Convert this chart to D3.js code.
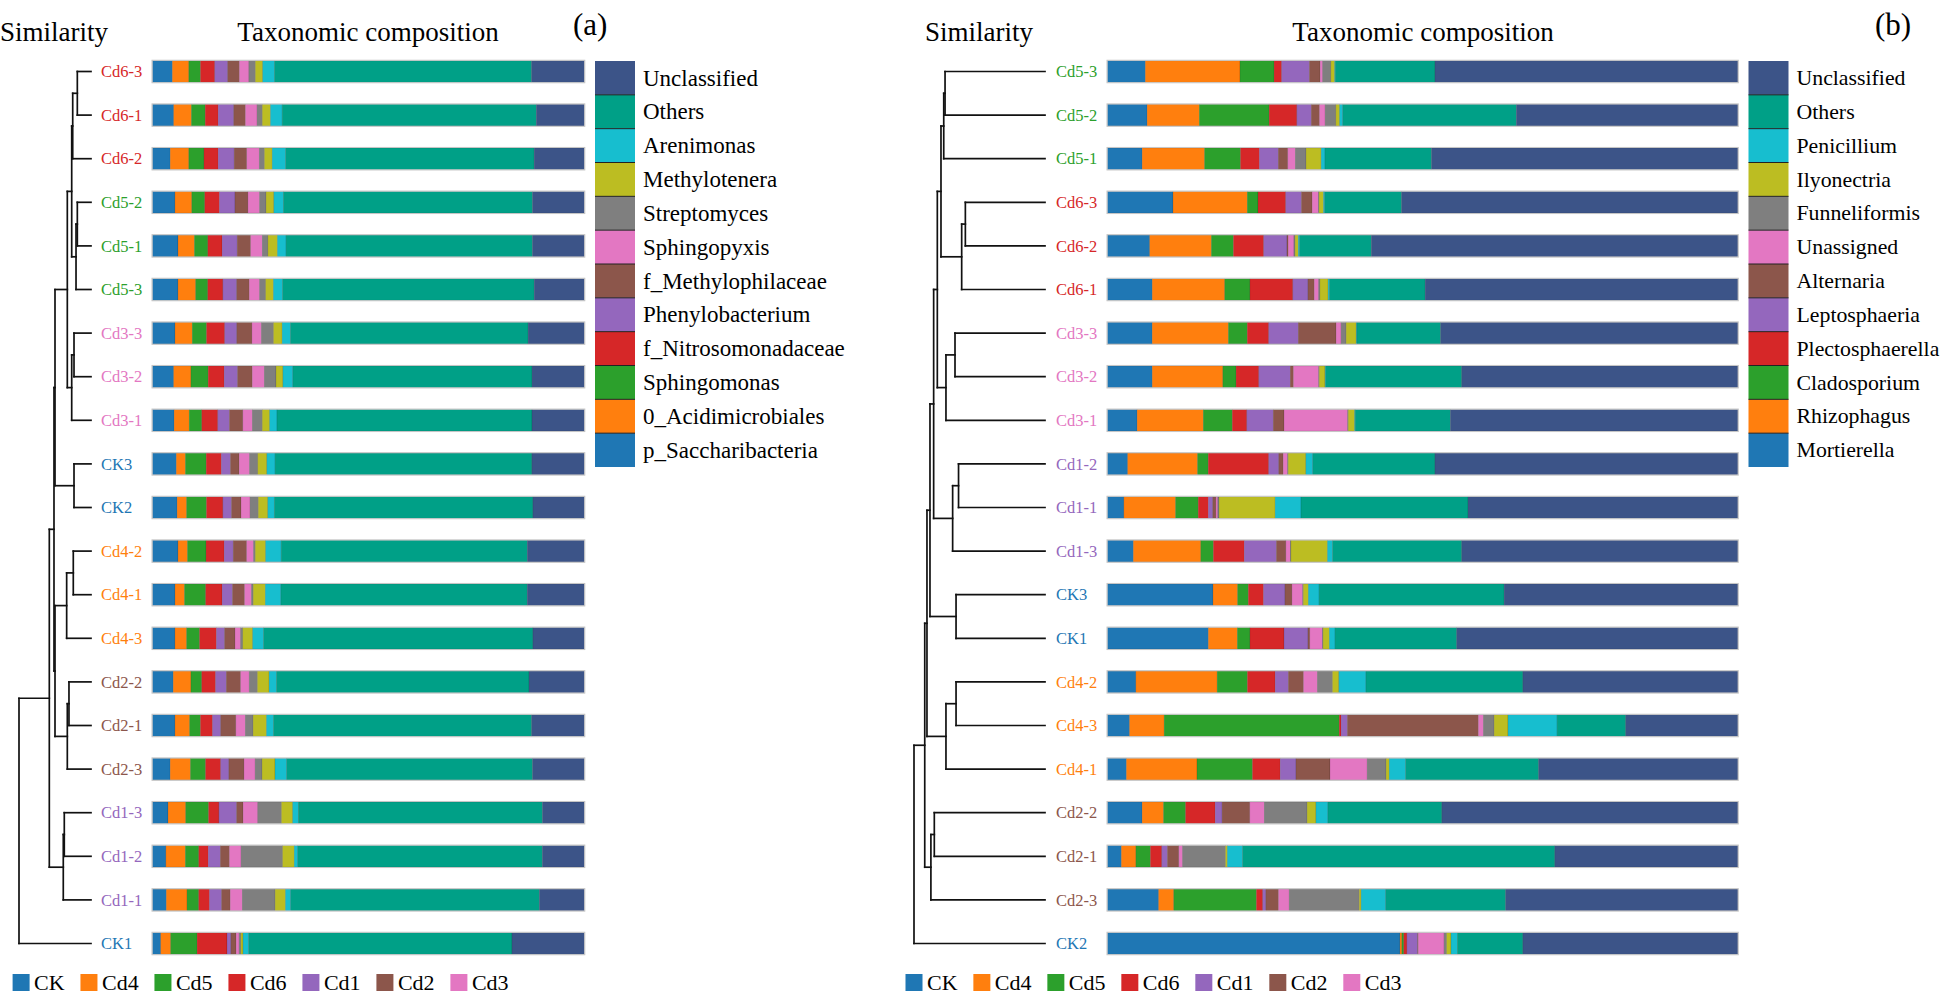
<!DOCTYPE html>
<html><head><meta charset="utf-8">
<script src="https://cdn.jsdelivr.net/npm/d3@7"></script>
<style>body{margin:0;background:#fff}svg{display:block;font-family:"Liberation Serif","Times New Roman",serif}</style>
</head><body>
<svg id="c" width="1945" height="996"></svg>
<script>
// ---------- DATA ----------
const groups = ["CK","Cd4","Cd5","Cd6","Cd1","Cd2","Cd3"];
const groupColors = ["#1f77b4","#ff7f0e","#2ca02c","#d62728","#9467bd","#8c564b","#e377c2"];
const taxonColors = ["#1f77b4","#ff7f0e","#2ca02c","#d62728","#9467bd","#8c564b","#e377c2","#7f7f7f","#bcbd22","#17becf","#00a087","#3c5488"];

const taxaA = ["p_Saccharibacteria","0_Acidimicrobiales","Sphingomonas","f_Nitrosomonadaceae","Phenylobacterium","f_Methylophilaceae","Sphingopyxis","Streptomyces","Methylotenera","Arenimonas","Others","Unclassified"];
const samplesA = ["Cd6-3","Cd6-1","Cd6-2","Cd5-2","Cd5-1","Cd5-3","Cd3-3","Cd3-2","Cd3-1","CK3","CK2","Cd4-2","Cd4-1","Cd4-3","Cd2-2","Cd2-1","Cd2-3","Cd1-3","Cd1-2","Cd1-1","CK1"];
const valuesA = [
 [4.6,3.8,2.7,3.3,3.0,2.7,2.2,1.5,1.7,2.7,59.5,12.2],
 [4.9,4.1,3.2,3.0,3.6,2.7,2.7,1.2,1.9,2.7,58.8,11.1],
 [4.1,4.3,3.5,3.3,3.7,2.9,2.9,1.2,1.8,3.1,57.5,11.6],
 [5.2,3.9,3.0,3.4,3.6,3.0,2.7,1.5,1.8,2.2,57.7,12.0],
 [5.9,3.8,3.1,3.3,3.5,3.1,2.7,1.3,2.2,2.0,57.0,12.0],
 [5.9,4.1,2.8,3.5,3.2,2.9,2.4,1.4,1.8,2.1,58.3,11.6],
 [5.2,4.0,3.3,4.2,2.8,3.5,2.2,2.8,2.0,1.9,55.0,13.0],
 [4.9,4.0,4.0,3.7,3.1,3.4,2.8,2.7,1.6,2.3,55.4,12.1],
 [5.0,3.5,2.9,3.7,2.7,3.1,2.2,2.3,1.7,1.7,59.0,12.1],
 [5.5,2.1,4.8,3.5,2.1,2.0,2.4,1.9,2.1,1.9,59.3,12.1],
 [5.7,2.2,4.6,3.8,2.0,2.2,2.1,1.9,2.2,1.5,59.9,11.9],
 [5.9,2.2,4.3,4.2,2.1,3.1,1.6,0.4,2.4,3.6,57.0,13.2],
 [5.2,2.2,4.9,3.8,2.4,2.8,1.6,0.4,2.8,3.6,57.0,13.2],
 [5.2,2.7,3.0,3.9,1.9,2.4,1.3,0.5,2.3,2.5,62.4,11.9],
 [4.8,4.1,2.5,3.2,2.5,3.3,2.0,1.9,2.7,1.7,58.5,12.8],
 [5.2,3.4,2.5,2.8,1.9,3.5,2.2,1.8,3.1,1.6,59.8,12.2],
 [4.1,4.7,3.5,3.5,1.9,3.5,2.6,1.6,3.0,2.7,57.0,12.0],
 [3.6,4.1,5.3,2.4,4.1,1.5,3.4,5.5,2.6,1.3,56.6,9.7],
 [3.1,4.5,3.1,2.2,2.8,2.1,2.7,9.6,2.7,0.8,56.6,9.7],
 [3.2,4.8,2.7,2.5,2.8,2.0,2.8,7.6,2.4,1.2,57.6,10.4],
 [1.9,2.3,6.1,6.9,0.9,1.2,0.7,0.4,0.5,1.3,60.8,16.7]
];
// dendrogram (a): h = dissimilarity height of each merge
const treeA = {h:1.0, c:[
  {h:0.579, c:[
    {h:0.514, c:[
      {h:0.5, c:[
        {h:0.329, c:[
          {h:0.268, c:[
            {h:0.254, c:[{h:0.19, c:["Cd6-3","Cd6-1"]},"Cd6-2"]},
            {h:0.208, c:[{h:0.19, c:["Cd5-2","Cd5-1"]},"Cd5-3"]}]},
          {h:0.268, c:[{h:0.236, c:["Cd3-3","Cd3-2"]},"Cd3-1"]}]},
        {h:0.236, c:["CK3","CK2"]}]},
      {h:0.5, c:[
        {h:0.338, c:[{h:0.246, c:["Cd4-2","Cd4-1"]},"Cd4-3"]},
        {h:0.329, c:[{h:0.306, c:["Cd2-2","Cd2-1"]},"Cd2-3"]}]}]},
    {h:0.385, c:[{h:0.371, c:["Cd1-3","Cd1-2"]},"Cd1-1"]}]},
  "CK1"]};

const taxaB = ["Mortierella","Rhizophagus","Cladosporium","Plectosphaerella","Leptosphaeria","Alternaria","Unassigned","Funneliformis","Ilyonectria","Penicillium","Others","Unclassified"];
const samplesB = ["Cd5-3","Cd5-2","Cd5-1","Cd6-3","Cd6-2","Cd6-1","Cd3-3","Cd3-2","Cd3-1","Cd1-2","Cd1-1","Cd1-3","CK3","CK1","Cd4-2","Cd4-3","Cd4-1","Cd2-2","Cd2-1","Cd2-3","CK2"];
const valuesB = [
 [6.0,15.0,5.4,1.2,4.4,1.7,0.4,1.3,0.6,0.1,15.8,48.0],
 [6.3,8.3,11.1,4.4,2.3,1.3,0.9,1.7,0.6,0.5,27.6,35.2],
 [5.5,9.9,5.7,3.0,3.0,1.5,1.2,1.7,2.4,0.6,16.9,48.6],
 [10.4,11.8,1.7,4.4,2.5,1.7,1.0,0.1,0.7,0.2,12.2,53.4],
 [6.7,9.8,3.5,4.8,3.7,0.2,0.9,0.2,0.5,0.2,11.4,58.2],
 [7.1,11.5,4.0,6.8,2.4,1.0,0.7,0.2,1.3,0.2,15.2,49.6],
 [7.1,12.1,3.0,3.4,4.7,6.0,0.8,0.8,1.6,0.1,13.3,47.2],
 [7.1,11.2,2.1,3.6,5.0,0.5,4.0,0.1,0.9,0.1,21.6,43.8],
 [4.7,10.5,4.6,2.3,4.2,1.7,10.1,0.1,1.0,0.1,15.1,45.6],
 [3.2,11.1,1.7,9.6,1.6,0.7,0.7,0.1,2.8,1.1,19.4,48.1],
 [2.6,8.2,3.6,1.6,0.7,0.5,0.3,0.2,8.9,4.1,26.5,42.8],
 [4.1,10.7,2.0,4.9,5.1,1.5,0.7,0.1,5.8,0.8,20.5,43.8],
 [16.7,3.9,1.7,2.4,3.4,1.1,1.7,0.1,0.8,1.7,29.3,37.0],
 [16.0,4.6,2.0,5.4,3.8,0.3,2.0,0.1,1.0,0.9,19.3,44.6],
 [4.5,12.9,4.8,4.4,2.1,2.4,2.2,2.4,1.0,4.3,24.9,34.1],
 [3.5,5.5,27.8,0.3,1.0,20.8,0.8,1.7,2.2,7.8,10.9,17.8],
 [3.0,11.2,8.8,4.4,2.5,5.4,5.9,3.0,0.5,2.6,21.1,31.6],
 [5.5,3.4,3.5,4.7,1.1,4.4,2.3,6.8,1.4,1.9,18.1,47.0],
 [2.2,2.3,2.3,1.8,0.9,1.8,0.6,6.8,0.3,2.4,49.5,29.0],
 [8.1,2.4,13.1,1.0,0.5,2.0,1.7,11.1,0.3,3.9,19.0,36.8],
 [46.4,0.3,0.3,0.5,1.7,0.1,4.1,0.4,0.7,1.0,10.4,34.1]
];
const treeB = {h:1.0, c:[
  {h:0.918, c:[
    {h:0.901, c:[
      {h:0.878, c:[
        {h:0.850, c:[
          {h:0.822, c:[
            {h:0.794, c:[
              {h:0.773, c:[{h:0.763, c:["Cd5-3","Cd5-2"]},"Cd5-1"]},
              {h:0.636, c:[{h:0.608, c:["Cd6-3","Cd6-2"]},"Cd6-1"]}]},
            {h:0.756, c:[{h:0.687, c:["Cd3-3","Cd3-2"]},"Cd3-1"]}]},
          {h:0.705, c:[{h:0.660, c:["Cd1-2","Cd1-1"]},"Cd1-3"]}]},
        {h:0.679, c:["CK3","CK1"]}]},
      {h:0.756, c:[{h:0.679, c:["Cd4-2","Cd4-3"]},"Cd4-1"]}]},
    {h:0.871, c:[{h:0.845, c:["Cd2-2","Cd2-1"]},"Cd2-3"]}]},
  "CK2"]};

// ---------- DRAW ----------
const svg = d3.select("#c");
const groupColor = d3.scaleOrdinal(groups, groupColors);
const sampleGroup = s => s.startsWith("CK") ? "CK" : s.split("-")[0];

function panel(cfg) {
  const g = svg.append("g");
  const y = d3.scalePoint().domain(cfg.samples).range([71.5, 943.5]);
  const barH = 21.5;
  const x = d3.scaleLinear([0, 1], [cfg.barX0, cfg.barX1]);
  const color = d3.scaleOrdinal(cfg.taxa, taxonColors);

  // titles
  g.append("text").attr("x", cfg.simX).attr("y", 40.5).attr("font-size", 27).text("Similarity");
  g.append("text").attr("x", cfg.compX).attr("y", 40.5).attr("font-size", 27).attr("text-anchor", "middle").text("Taxonomic composition");
  g.append("text").attr("x", cfg.tagX).attr("y", 35).attr("font-size", 31).text(cfg.tag);

  // stacked bars
  const rows = cfg.samples.map((s, i) => { const o = {sample: s}; cfg.taxa.forEach((t, j) => o[t] = cfg.values[i][j]); return o; });
  const series = d3.stack().keys(cfg.taxa).offset(d3.stackOffsetExpand)(rows);
  g.append("g").selectAll("g").data(series).join("g")
    .attr("fill", d => color(d.key))
    .selectAll("rect").data(d => d).join("rect")
    .attr("x", d => x(d[0])).attr("width", d => Math.max(0, x(d[1]) - x(d[0])))
    .attr("y", d => y(d.data.sample) - barH / 2).attr("height", barH)
    .attr("stroke", "rgba(0,0,0,0.18)").attr("stroke-width", 0.6);
  g.append("g").selectAll("rect").data(cfg.samples).join("rect")
    .attr("x", x(0) - 0.5).attr("width", x(1) - x(0) + 1)
    .attr("y", s => y(s) - barH / 2 - 0.5).attr("height", barH + 1)
    .attr("fill", "none").attr("stroke", "#c4c4c4").attr("stroke-width", 1);

  // sample labels
  g.append("g").selectAll("text").data(cfg.samples).join("text")
    .attr("x", cfg.labelX).attr("y", s => y(s)).attr("dy", "0.35em")
    .attr("font-size", 16.5).attr("fill", s => groupColor(sampleGroup(s))).text(s => s);

  // dendrogram
  const tx = d3.scaleLinear([0, 1], [cfg.leafX, cfg.rootX]);
  function build(n) {
    if (typeof n === "string") return {h: 0, y: y(n)};
    const kids = n.c.map(build);
    return {h: n.h, kids, y: (kids[0].y + kids[kids.length - 1].y) / 2};
  }
  const segs = [];
  (function walk(n) {
    if (!n.kids) return;
    segs.push([tx(n.h), n.kids[0].y, tx(n.h), n.kids[n.kids.length - 1].y]);
    n.kids.forEach(k => { segs.push([tx(n.h), k.y, tx(k.h), k.y]); walk(k); });
  })(build(cfg.tree));
  g.append("g").attr("stroke", "#111").attr("stroke-width", 1.7).attr("stroke-linecap", "square")
    .selectAll("line").data(segs).join("line")
    .attr("x1", d => d[0]).attr("y1", d => d[1]).attr("x2", d => d[2]).attr("y2", d => d[3]);

  // right legend
  const legTaxa = cfg.taxa.slice().reverse();
  const ly = d3.scaleBand().domain(legTaxa).range([61, 467]);
  const lg = g.append("g");
  lg.selectAll("rect").data(legTaxa).join("rect")
    .attr("x", cfg.legX).attr("width", 40).attr("y", t => ly(t)).attr("height", ly.bandwidth())
    .attr("fill", t => color(t));
  lg.selectAll("line").data(legTaxa.slice(1)).join("line")
    .attr("x1", cfg.legX).attr("x2", cfg.legX + 40).attr("y1", t => ly(t)).attr("y2", t => ly(t))
    .attr("stroke", "#222").attr("stroke-width", 1);
  lg.selectAll("text").data(legTaxa).join("text")
    .attr("x", cfg.legX + 48).attr("y", t => ly(t) + ly.bandwidth() / 2).attr("dy", "0.33em")
    .attr("font-size", cfg.legFont).text(t => t);

  // bottom group legend
  let cx = cfg.botX;
  const bg = g.append("g");
  groups.forEach(gr => {
    bg.append("rect").attr("x", cx).attr("y", 974).attr("width", 17).attr("height", 17).attr("fill", groupColor(gr));
    const t = bg.append("text").attr("x", cx + 21.5).attr("y", 990).attr("font-size", 22).text(gr);
    cx += 21.5 + t.node().getComputedTextLength() + 15.8;
  });
}

panel({samples: samplesA, values: valuesA, taxa: taxaA, tree: treeA,
  barX0: 152.5, barX1: 584.3, labelX: 101, leafX: 91, rootX: 19,
  simX: 0, compX: 368, tagX: 573, tag: "(a)", legX: 595, legFont: 23, botX: 12.6});
panel({samples: samplesB, values: valuesB, taxa: taxaB, tree: treeB,
  barX0: 1107.5, barX1: 1737.8, labelX: 1056, leafX: 1045, rootX: 914,
  simX: 925, compX: 1423, tagX: 1875, tag: "(b)", legX: 1748.5, legFont: 21.8, botX: 905.5});
</script>
</body></html>
